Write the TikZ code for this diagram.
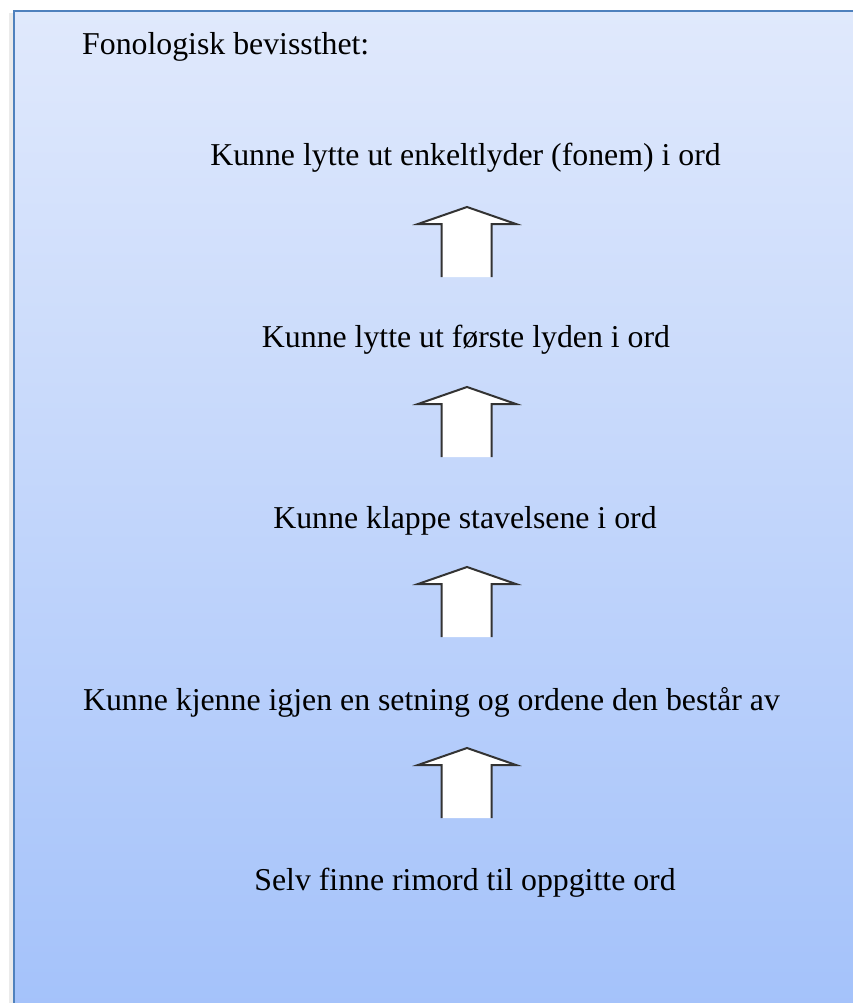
\documentclass[tikz,border=0pt]{standalone}
\usepackage{fontspec}
\setmainfont{Liberation Serif}
\begin{document}
\begin{tikzpicture}[x=1pt,y=-1pt,
  lbl/.style={anchor=base,inner sep=0pt,font=\fontsize{31.8}{38}\selectfont},
  uparrow/.pic={
    \fill[white] (0,0) -- (49,17) -- (24.5,17) -- (24.5,70) -- (-25.5,70) -- (-25.5,17) -- (-49,17) -- cycle;
    \draw[arrowline] (-25.5,70) -- (-25.5,17) -- (-49,17) -- (0,0) -- (49,17) -- (24.5,17) -- (24.5,70);
  },
  arrowline/.style={draw=black!80,line width=2pt,line join=miter}]
\useasboundingbox (0,0) rectangle (852,1003);
\fill[white] (0,0) rectangle (852,1003);
% shadow
\fill[black!8] (9,13) rectangle (14,1003);
\shade[top color={rgb,255:red,224;green,233;blue,252},bottom color={rgb,255:red,164;green,194;blue,250}] (14,11) rectangle (860,1010);
\draw[draw={rgb,255:red,79;green,129;blue,189},line width=2pt] (860,11) -- (14,11) -- (14,1010);
\node[lbl,anchor=base west] (title) at (82,55) {Fonologisk bevissthet:};
\node[lbl] (t1) at (465.5,166) {Kunne lytte ut enkeltlyder (fonem) i ord};
\node[lbl] (t2) at (466,347) {Kunne lytte ut første lyden i ord};
\node[lbl] (t3) at (465,528) {Kunne klappe stavelsene i ord};
\node[lbl] (t4) at (431.5,710) {Kunne kjenne igjen en setning og ordene den består av};
\node[lbl] (t5) at (465,890) {Selv finne rimord til oppgitte ord};
\pic at (467,207) {uparrow};
\pic at (467,387) {uparrow};
\pic at (467,567) {uparrow};
\pic at (467,748) {uparrow};
\end{tikzpicture}
\end{document}
